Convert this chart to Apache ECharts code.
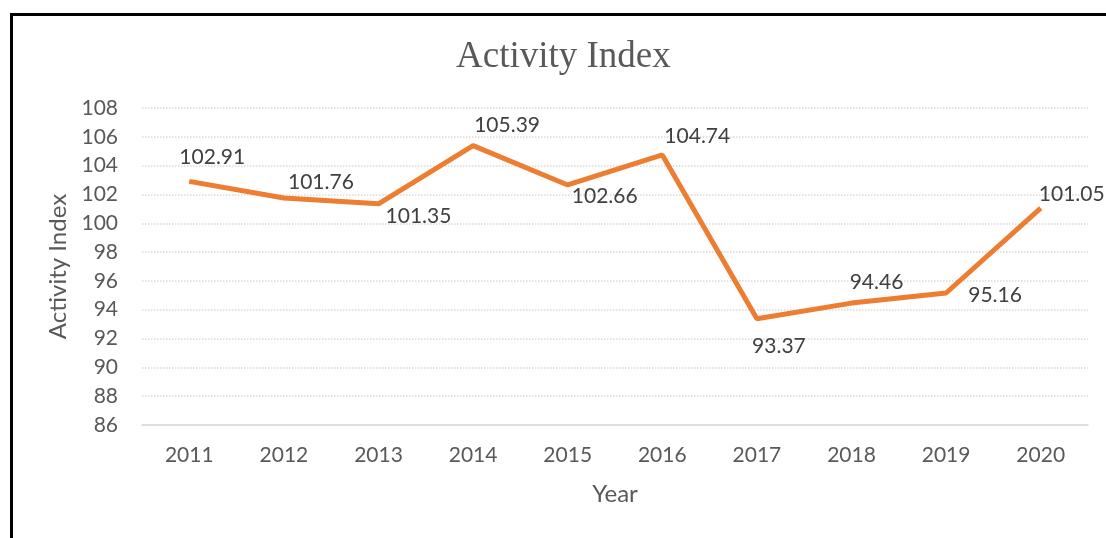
<!DOCTYPE html>
<html>
<head>
<meta charset="utf-8">
<script src="https://cdn.jsdelivr.net/npm/echarts@6/dist/echarts.min.js"></script>
<style>
  html, body { margin: 0; padding: 0; background: #fff; }
  #chart { width: 1106px; height: 538px; }
</style>
</head>
<body>
<div id="chart"></div>
<script>
const years = ['2011', '2012', '2013', '2014', '2015', '2016', '2017', '2018', '2019', '2020'];
const activity = [102.91, 101.76, 101.35, 105.39, 102.66, 104.74, 93.37, 94.46, 95.16, 101.05];
// where each value label sits relative to its point (px)
const labelOffsets = [[23, -24], [37, -16], [40, 12], [34, -20], [37, 11], [35, -19], [22, 27], [25, -21], [49, 2], [31, -14]];

const font = 'Lato, "Noto Sans", sans-serif';
const chart = echarts.init(document.getElementById('chart'));

chart.setOption({
  animation: false,
  title: {
    text: 'Activity Index',
    left: 451,
    top: 34,
    textStyle: { fontFamily: '"Liberation Serif", serif', fontSize: 37, fontWeight: 'normal', color: '#595959' }
  },
  graphic: [{
    type: 'rect',
    left: 9, top: 12,
    shape: { width: 1200, height: 600 },
    style: { fill: 'none', stroke: '#000', lineWidth: 3 }
  }],
  grid: { left: 142, right: 18, top: 108, bottom: 113 },
  xAxis: {
    type: 'category',
    data: years,
    name: 'Year',
    nameLocation: 'middle',
    nameGap: 57,
    nameTextStyle: { fontFamily: font, fontSize: 24, color: '#595959' },
    axisLine: { lineStyle: { color: '#d9d9d9', width: 1.5 } },
    axisTick: { show: false },
    axisLabel: { margin: 20, fontFamily: font, fontSize: 21, color: '#595959' }
  },
  yAxis: {
    type: 'value',
    min: 86,
    max: 108,
    interval: 2,
    name: 'Activity Index',
    nameLocation: 'middle',
    nameGap: 70,
    nameTextStyle: { fontFamily: font, fontSize: 24, color: '#595959' },
    axisLine: { show: false },
    axisTick: { show: false },
    axisLabel: { margin: 24, fontFamily: font, fontSize: 21, color: '#595959' },
    splitLine: { lineStyle: { color: '#d9d9d9', type: 'dotted', width: 1.5 } }
  },
  series: [{
    type: 'line',
    data: activity.map((v, i) => ({
      value: v,
      label: { offset: labelOffsets[i] }
    })),
    symbol: 'circle',
    symbolSize: 1,
    showSymbol: true,
    itemStyle: { color: '#ED7D31' },
    lineStyle: { color: '#ED7D31', width: 5 },
    label: {
      show: true,
      position: 'inside',
      fontFamily: font,
      fontSize: 21,
      color: '#404040',
      formatter: p => p.value.toFixed(2)
    }
  }]
});
</script>
</body>
</html>
